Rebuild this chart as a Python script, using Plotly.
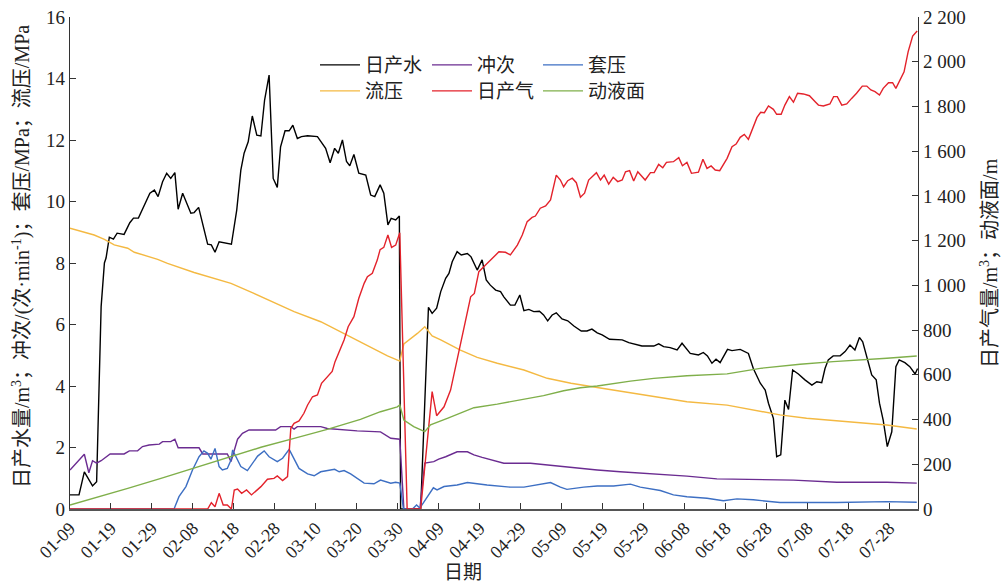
import pandas as pd
import plotly.graph_objects as go

BASE = pd.Timestamp("2019-01-09")

# ---- 日产水 (m3) : days since 01-09, values ----
water_days = [0, 2.2, 3.5, 5.5, 6.5, 7.6, 8.4, 8.8, 9.6, 10.6, 11.5, 13.2, 14.6, 15.5, 16.7, 18.1, 19.5, 20.6, 21.5,
              22.6, 23.6, 24.6, 25.6, 26.4, 27.5, 29.5, 30.3, 31.4, 33.6, 34.5, 35.4, 36.4, 38.0, 39.4, 40.7, 41.7,
              42.5, 43.5, 44.5, 45.6, 46.6, 47.5, 48.6, 49.6, 50.6, 51.4, 52.5, 53.5, 54.4, 55.5, 56.5, 58.0, 60.4,
              62.4, 63.5, 64.6, 65.5, 66.5, 67.5, 68.3, 69.3, 70.5, 72.2, 73.4, 74.4, 75.7, 76.6, 77.6, 78.4, 79.5,
              80.4, 80.7, 85.6, 87.5, 88.4, 89.5, 90.5, 91.7, 92.5, 93.3, 94.5, 95.5, 97.0, 97.9, 99.4, 100.6,
              101.6, 102.6, 103.9, 105.1, 105.9, 107.5, 108.6, 109.8, 110.8, 112.0, 113.2, 114.6, 115.6, 116.6,
              117.7, 118.7, 120.1, 121.5, 123.0, 124.8, 126.2, 127.4, 128.7, 129.9, 131.7, 133.1, 134.8, 136.4,
              139.6, 142.5, 143.7, 144.9, 146.5, 148.2, 149.4, 151.4, 153.4, 154.6, 155.6, 156.7, 157.7, 158.7,
              160.5, 161.6, 163.6, 165.6, 166.8, 168.5, 169.7, 170.5, 171.7, 172.5, 173.5, 174.5, 175.4, 176.4,
              177.8, 179.4, 181.1, 182.3, 183.5, 184.3, 185.1, 186.3, 188.0, 189.2, 190.4, 191.6, 192.7, 193.5,
              194.5, 195.7, 196.8, 197.6, 198.5, 199.5, 200.6, 201.6, 202.4, 203.8, 205.0, 206.3, 206.9]
water_vals = [0.46, 0.46, 1.21, 0.75, 0.89, 6.58, 8.0, 8.16, 8.84, 8.78, 8.97, 8.93, 9.31, 9.46, 9.46, 9.85, 10.27,
              10.37, 10.16, 10.64, 10.92, 10.75, 10.94, 9.75, 10.27, 9.62, 9.64, 9.81, 8.61, 8.59, 8.35, 8.69, 8.64,
              8.61, 9.72, 11.02, 11.57, 11.94, 12.78, 12.16, 12.13, 13.3, 14.11, 10.75, 10.46, 11.78, 12.3, 12.3,
              12.48, 12.05, 12.11, 12.14, 12.11, 11.73, 11.26, 11.73, 11.57, 12.0, 11.3, 11.16, 11.53, 10.92, 10.86,
              10.21, 10.16, 10.54, 10.27, 9.24, 9.45, 9.4, 9.53, 0, 0, 6.56, 6.36, 6.53, 7.07, 7.5, 7.66, 8.04, 8.37,
              8.26, 8.31, 8.2, 7.77, 8.1, 7.45, 7.28, 7.12, 7.07, 6.9, 6.63, 6.63, 6.96, 6.45, 6.49, 6.42, 6.43, 6.31,
              6.12, 6.31, 6.38, 6.18, 6.12, 5.95, 5.79, 5.79, 5.85, 5.73, 5.66, 5.52, 5.52, 5.5, 5.41, 5.3, 5.3, 5.37,
              5.28, 5.25, 5.17, 5.39, 5.06, 5.01, 5.09, 4.98, 4.74, 4.87, 4.76, 5.19, 5.15, 5.19, 5.06, 4.57, 4.09,
              3.87, 3.44, 2.95, 1.7, 1.76, 3.54, 3.24, 4.52, 4.39, 4.2, 4.03, 4.14, 4.11, 4.57, 4.85, 4.98, 4.98,
              5.12, 5.33, 5.17, 5.58, 5.44, 4.95, 4.36, 4.2, 3.44, 2.89, 2.03, 2.51, 4.63, 4.85, 4.76, 4.63, 4.39, 4.57]

# ---- 冲次 (次/min) ----
stroke_days = [0, 1.5, 3.5, 4.6, 5.5, 6.5, 7.6, 9.8, 13.2, 14.5, 16.5, 17.7, 19.3, 21.8, 22.6, 24.6, 25.6, 26.4,
               31.5, 32.4, 38.4, 39.3, 40.1, 40.9, 42.1, 43.7, 50.2, 51.4, 53.9, 54.7, 55.5, 61.2, 62.8, 66.9, 70.1,
               75.8, 78.3, 80.5, 81.5, 85.4, 86.6, 88.8, 90.0, 91.7, 94.5, 97.0, 98.6, 100.6, 103.5, 105.9, 112.4,
               116.5, 122.3, 128.7, 134.3, 142.5, 150.6, 157.9, 166.8, 176.6, 187.2, 199.4, 206.7]
stroke_vals = [1.27, 1.49, 1.78, 1.18, 1.57, 1.49, 1.57, 1.79, 1.79, 1.89, 1.89, 2.03, 2.08, 2.11, 2.19, 2.19, 2.27,
               1.99, 1.99, 1.79, 1.79, 1.54, 1.92, 2.27, 2.46, 2.57, 2.57, 2.68, 2.68, 2.6, 2.68, 2.68, 2.62, 2.57,
               2.54, 2.51, 2.3, 2.27, 0, 0, 1.49, 1.54, 1.62, 1.7, 1.86, 1.86, 1.76, 1.68, 1.57, 1.49, 1.49, 1.43,
               1.36, 1.27, 1.21, 1.14, 1.07, 0.98, 0.97, 0.94, 0.87, 0.87, 0.84]

# ---- 套压 (MPa) ----
casing_days = [0, 25.4, 26.6, 28.3, 29.9, 31.5, 32.7, 33.6, 34.4, 35.4, 36.4, 37.2, 38.4, 39.3, 39.7, 40.5, 41.7,
               43.3, 44.5, 45.8, 47.4, 48.6, 50.6, 51.9, 53.5, 54.7, 55.9, 58.0, 59.6, 61.2, 63.6, 64.6, 65.7, 66.9,
               68.5, 70.5, 71.8, 74.2, 75.8, 78.3, 79.5, 80.5, 81.4, 83.6, 84.6, 85.4, 87.2, 88.7, 89.6, 91.3, 94.5,
               97.0, 101.8, 104.3, 107.5, 110.8, 114.0, 117.3, 119.7, 121.3, 125.4, 128.7, 132.7, 136.8, 139.2,
               144.1, 147.3, 150.6, 155.5, 159.5, 162.8, 166.8, 173.3, 179.8, 187.2, 199.4, 206.7]
casing_vals = [0, 0, 0.4, 0.73, 1.27, 1.7, 1.89, 1.81, 1.62, 1.97, 1.38, 1.27, 1.32, 1.59, 1.92, 1.7, 1.38, 1.25,
               1.49, 1.72, 1.89, 1.7, 1.54, 1.65, 1.94, 1.65, 1.32, 1.14, 1.08, 1.21, 1.25, 1.29, 1.21, 1.25, 1.14,
               0.94, 0.84, 0.82, 0.94, 0.84, 0.87, 0.84, 0, 0, 0.13, 0.03, 0.4, 0.69, 0.62, 0.73, 0.78, 0.86, 0.78,
               0.75, 0.71, 0.71, 0.78, 0.86, 0.71, 0.64, 0.71, 0.75, 0.75, 0.81, 0.71, 0.6, 0.46, 0.4, 0.35, 0.27,
               0.33, 0.3, 0.21, 0.21, 0.21, 0.24, 0.22]

# ---- 流压 (MPa) ----
flow_days = [0, 5.9, 8.4, 10.8, 14.1, 15.7, 21.4, 23.8, 30.3, 39.3, 44.9, 54.7, 61.2, 66.9, 71.8, 77.5, 80.5, 81.5,
             84.8, 86.6, 88.4, 90.5, 95.3, 99.4, 104.3, 110.8, 116.5, 122.3, 128.7, 136.4, 150.6, 160.4, 166.8,
             173.3, 179.8, 191.2, 199.4, 206.7]
flow_vals = [9.13, 8.91, 8.77, 8.59, 8.48, 8.35, 8.12, 7.99, 7.69, 7.34, 7.01, 6.42, 6.09, 5.71, 5.36, 4.98, 4.81,
             5.37, 5.71, 5.93, 5.63, 5.5, 5.17, 4.93, 4.74, 4.52, 4.25, 4.09, 3.95, 3.78, 3.49, 3.38, 3.22, 3.06,
             2.95, 2.81, 2.73, 2.6]

# ---- 日产气 (m3) ----
gas_days = [0, 33.6, 34.5, 35.4, 36.4, 37.4, 38.4, 39.4, 40.1, 40.9, 41.9, 43.1, 44.3, 45.8, 46.6, 48.2, 49.8, 50.6,
            51.9, 53.1, 53.9, 54.7, 55.9, 57.1, 58.0, 59.2, 60.4, 61.4, 62.8, 64.0, 64.7, 65.9, 66.9, 67.9, 69.3,
            70.5, 71.8, 72.6, 73.8, 75.0, 75.7, 76.6, 77.6, 78.5, 79.5, 80.5, 82.3, 85.6, 88.4, 89.5, 91.3, 92.9,
            94.5, 96.1, 97.8, 98.7, 99.8, 101.0, 102.2, 103.5, 104.7, 106.3, 107.5, 109.2, 110.4, 111.6, 112.8,
            113.6, 114.8, 116.1, 117.3, 118.7, 119.7, 120.5, 121.5, 122.6, 123.6, 124.6, 125.6, 126.6, 127.4,
            128.5, 129.5, 130.4, 131.5, 132.6, 133.7, 134.8, 135.6, 136.6, 137.6, 138.6, 140.4, 141.7, 142.6,
            143.7, 144.7, 145.6, 147.3, 148.6, 149.5, 150.6, 151.7, 153.4, 154.5, 155.5, 156.5, 157.5, 158.6,
            160.4, 161.6, 162.6, 163.6, 164.6, 165.6, 166.7, 167.7, 168.6, 169.5, 170.5, 171.7, 172.5, 173.6,
            174.5, 175.6, 176.6, 177.6, 179.0, 180.5, 181.9, 182.7, 183.9, 185.5, 186.4, 187.3, 188.4, 189.6,
            190.8, 192.0, 193.4, 194.5, 195.5, 196.5, 197.6, 198.5, 199.8, 200.8, 201.6, 202.6, 203.6, 204.6,
            205.7, 206.8]
gas_vals = [0, 0, 28, 10, 70, 18, 18, 0, 85, 89, 70, 85, 63, 85, 100, 133, 137, 148, 127, 145, 361, 383, 394, 428,
            465, 502, 510, 562, 592, 615, 659, 711, 756, 815, 860, 942, 1009, 1039, 1054, 1113, 1160, 1170, 1225,
            1170, 1180, 1235, 0, 0, 525, 417, 457, 532, 666, 815, 949, 964, 1061, 1083, 1106, 1128, 1150, 1148,
            1136, 1180, 1225, 1285, 1304, 1310, 1345, 1355, 1382, 1493, 1471, 1441, 1468, 1479, 1459, 1394, 1412,
            1471, 1486, 1504, 1471, 1493, 1453, 1483, 1464, 1471, 1508, 1513, 1467, 1508, 1471, 1504, 1504, 1541,
            1526, 1550, 1553, 1571, 1535, 1550, 1501, 1506, 1564, 1523, 1534, 1516, 1513, 1568, 1620, 1632, 1662,
            1675, 1653, 1707, 1751, 1774, 1772, 1802, 1787, 1765, 1765, 1806, 1844, 1819, 1859, 1856, 1848, 1821,
            1806, 1802, 1811, 1844, 1844, 1806, 1811, 1836, 1859, 1891, 1891, 1874, 1866, 1851, 1881, 1906, 1906,
            1881, 1918, 1955, 2045, 2115, 2137]

# ---- 动液面 (m) ----
level_days = [0, 5.9, 14.1, 22.2, 30.3, 38.4, 46.6, 54.7, 62.8, 70.9, 75.8, 79.9, 80.5, 81.5, 83.9, 86.6, 88.0,
              92.1, 96.1, 98.6, 104.3, 110.0, 115.6, 120.5, 124.6, 128.7, 132.7, 136.8, 142.5, 150.6, 160.4, 168.5,
              178.2, 186.3, 199.4, 206.7]
level_vals = [18, 48, 92, 137, 182, 227, 276, 316, 356, 401, 435, 457, 465, 398, 368, 346, 376, 405, 435, 453, 469,
              487, 507, 529, 542, 550, 562, 572, 584, 596, 604, 629, 647, 659, 674, 684]


def to_dates(days):
    return BASE + pd.to_timedelta(days, unit="D")


FONT = "Liberation Serif, Noto Sans CJK SC, serif"
W_PLOT, H_PLOT = 848, 492  # plot-area size in px (1001 - 70 - 83, 584 - 17 - 75)

# name, days, values, colour, axis, legend column (px from left of plot), legend row (px from top of plot)
series = [
    ("日产水", water_days, water_vals, "#000000", "y", 245, 48),
    ("冲次", stroke_days, stroke_vals, "#6B2C91", "y", 357, 48),
    ("套压", casing_days, casing_vals, "#3D6FC3", "y", 468, 48),
    ("流压", flow_days, flow_vals, "#F4B942", "y", 245, 74),
    ("日产气", gas_days, gas_vals, "#E3222B", "y2", 357, 74),
    ("动液面", level_days, level_vals, "#7FAF4A", "y2", 468, 74),
]

fig = go.Figure()
legends = {}
for i, (name, d, v, color, yax, lx, ly) in enumerate(series):
    key = "legend" if i == 0 else f"legend{i + 1}"
    fig.add_trace(go.Scatter(x=to_dates(d), y=v, name=name, mode="lines",
                             line=dict(color=color, width=1.4), yaxis=yax, legend=key))
    legends[key] = dict(x=lx / W_PLOT, y=1 - ly / H_PLOT, xanchor="left", yanchor="middle",
                        orientation="h", bgcolor="rgba(0,0,0,0)", borderwidth=0,
                        font=dict(family=FONT, size=19, color="#222"), itemwidth=40)

fig.update_layout(
    width=1001, height=584,
    margin=dict(l=70, r=83, t=17, b=75, autoexpand=False),
    paper_bgcolor="white", plot_bgcolor="white",
    separators=". ",
    font=dict(family=FONT, size=19, color="#222"),
    showlegend=True,
    xaxis=dict(type="date", range=[BASE, BASE + pd.Timedelta(days=207)], automargin=False,
               tick0=BASE, dtick=10 * 86400000, tickformat="%m-%d", tickangle=-45,
               ticks="inside", ticklen=6, tickcolor="#333", showline=True, linecolor="#555", linewidth=1.5,
               showgrid=False, zeroline=False, tickfont=dict(family=FONT, size=18)),
    yaxis=dict(range=[0, 16], dtick=2, ticks="inside", ticklen=6, tickcolor="#333", automargin=False,
               showline=True, linecolor="#333", linewidth=1.2, showgrid=False, zeroline=False,
               tickfont=dict(family=FONT, size=19)),
    yaxis2=dict(range=[0, 2200], dtick=200, overlaying="y", side="right", anchor="x", automargin=False,
                ticks="inside", ticklen=6, tickcolor="#333", showline=True, linecolor="#333", linewidth=1.2,
                showgrid=False, zeroline=False, separatethousands=True, tickformat=",d",
                tickfont=dict(family=FONT, size=19)),
    annotations=[
        dict(text="日产水量/m<sup>3</sup>；冲次/(次·min<sup>-1</sup>)；套压/MPa；流压/MPa",
             xref="paper", yref="paper", x=-49 / W_PLOT, y=(509 - 257) / H_PLOT, textangle=-90,
             showarrow=False, font=dict(family=FONT, size=20), xanchor="center", yanchor="middle"),
        dict(text="日产气量/m<sup>3</sup>；动液面/m",
             xref="paper", yref="paper", x=(989 - 70) / W_PLOT, y=(509 - 263) / H_PLOT, textangle=-90,
             showarrow=False, font=dict(family=FONT, size=20), xanchor="center", yanchor="middle"),
        dict(text="日期", xref="paper", yref="paper", x=(463 - 70) / W_PLOT, y=(509 - 572) / H_PLOT,
             showarrow=False, font=dict(family=FONT, size=19), xanchor="center", yanchor="middle"),
    ],
)
fig.update_layout(**legends)

fig.write_html("out.html", config={"displayModeBar": False},
               post_script="document.body.style.margin='0';document.body.style.overflow='hidden';")
